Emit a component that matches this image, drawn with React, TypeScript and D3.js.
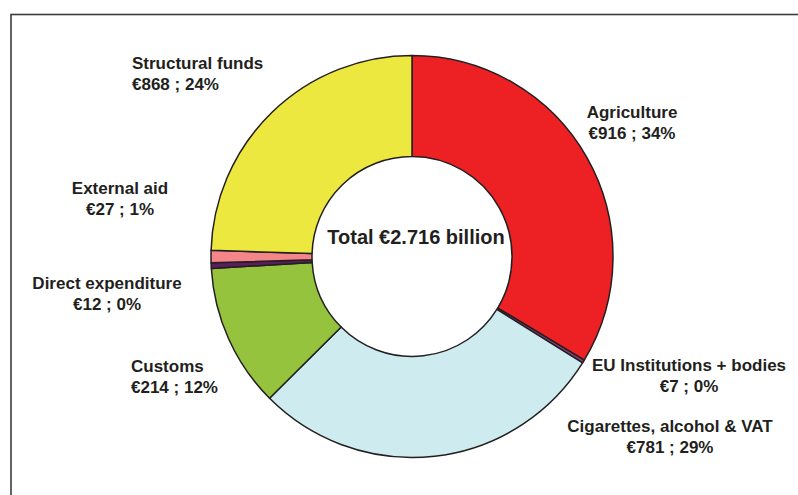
import React from "react";
import * as d3 from "d3";

// Sector names as printed
const categories = [
  "Agriculture",
  "EU Institutions + bodies",
  "Cigarettes, alcohol & VAT",
  "Customs",
  "Direct expenditure",
  "External aid",
  "Structural funds",
];
// Amounts (€ million) and shares as printed in the labels
const labelAmounts = [916, 7, 781, 214, 12, 27, 868];
const labelPercents = [34, 0, 29, 12, 0, 1, 24];
// Slice sizes (€ million)
const sliceValues = [916, 7, 781, 314, 12, 27, 668];
const totalText = "Total €2.716 billion";

const colors = ["#ED2024", "#8A3A7C", "#CEEBF0", "#96C33D", "#5A1D5E", "#F4868A", "#ECE83F"];

// label layout: [x, baseline of first line, anchor]
const labelLayout: [number, number, string][] = [
  [632, 118, "middle"],
  [689, 371, "middle"],
  [670, 432, "middle"],
  [131, 372, "start"],
  [107, 289, "middle"],
  [120, 194, "middle"],
  [132, 69, "start"],
];

export default function App() {
  const W = 798, H = 495;
  const cx = 412, cy = 256.5;
  const pie = d3.pie<number>().sort(null).value((d) => d).startAngle(0).endAngle(2 * Math.PI);
  const arcs = pie(sliceValues);
  const arc = d3.arc<d3.PieArcDatum<number>>().innerRadius(100).outerRadius(201);
  const font = "'Liberation Sans', Arial, Helvetica, sans-serif";
  return (
    <svg width={W} height={H} style={{ position: "absolute", left: 0, top: 0, background: "#fff" }}>
      <rect x={11} y={14.5} width={900} height={600} fill="none" stroke="#3c3c3c" strokeWidth={1.6} />
      <g transform={`translate(${cx},${cy})`}>
        {arcs.map((a, i) => (
          <path key={i} d={arc(a) || ""} fill={colors[i]} stroke="#231F20" strokeWidth={1.5} strokeLinejoin="round" />
        ))}
      </g>
      <text x={416} y={244} textAnchor="middle" fontFamily={font} fontWeight="bold" fontSize={20} fill="#231F20">
        {totalText}
      </text>
      {categories.map((c, i) => {
        const [x, y, anchor] = labelLayout[i];
        return (
          <g key={c} fontFamily={font} fontWeight="bold" fontSize={17} fill="#231F20">
            <text x={x} y={y} textAnchor={anchor}>{c}</text>
            <text x={x} y={y + 21} textAnchor={anchor}>{`€${labelAmounts[i]} ; ${labelPercents[i]}%`}</text>
          </g>
        );
      })}
    </svg>
  );
}
